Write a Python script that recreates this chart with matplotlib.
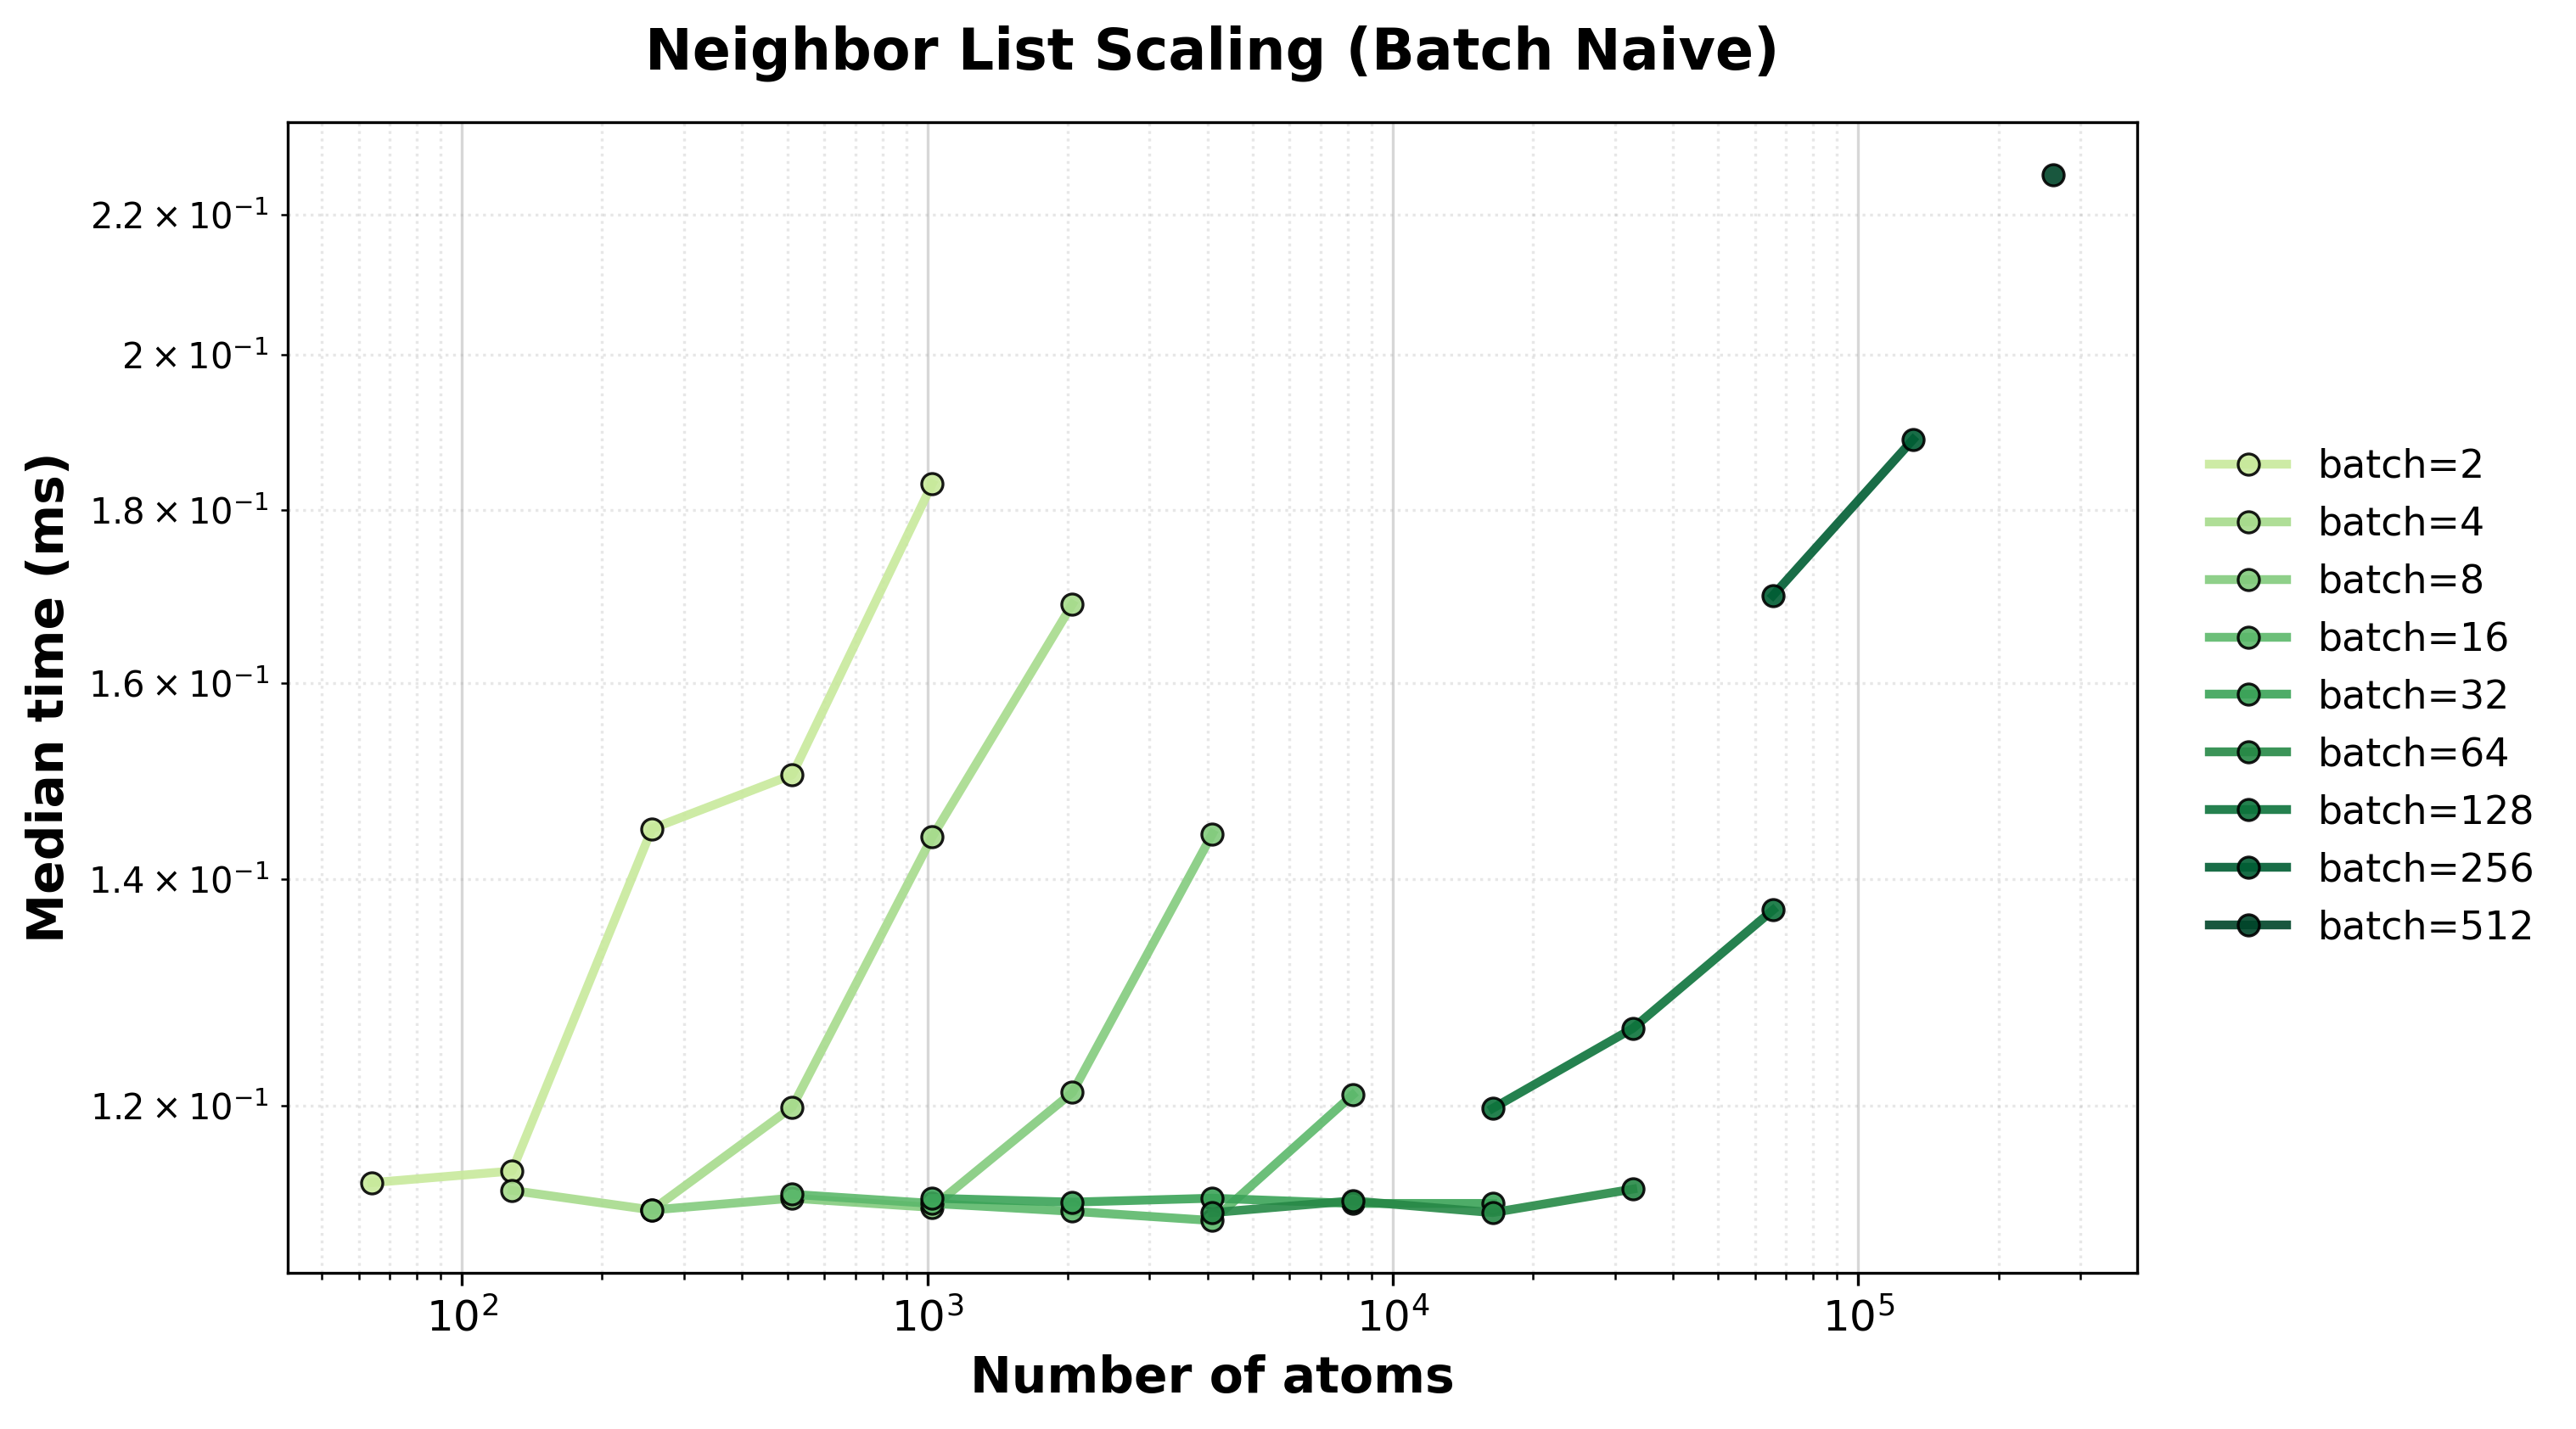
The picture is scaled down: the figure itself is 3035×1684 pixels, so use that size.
import numpy as np
import matplotlib
matplotlib.use("Agg")
import matplotlib.pyplot as plt

# batch sizes and measured median times (ms) per total atom count
batches = [2, 4, 8, 16, 32, 64, 128, 256, 512]

atoms_b2 = [64, 128, 256, 512, 1024]
time_b2 = [0.1139, 0.1148, 0.1449, 0.1503, 0.1832]

atoms_b4 = [128, 256, 512, 1024, 2048]
time_b4 = [0.1133, 0.1118, 0.1199, 0.1441, 0.1688]

atoms_b8 = [256, 512, 1024, 2048, 4096]
time_b8 = [0.1118, 0.1127, 0.1120, 0.1211, 0.1444]

atoms_b16 = [512, 1024, 2048, 4096, 8192]
time_b16 = [0.1130, 0.1123, 0.1117, 0.1110, 0.1209]

atoms_b32 = [1024, 2048, 4096, 8192, 16384]
time_b32 = [0.1127, 0.1124, 0.1127, 0.1123, 0.1123]

atoms_b64 = [4096, 8192, 16384, 32768]
time_b64 = [0.1116, 0.1125, 0.1116, 0.1134]

atoms_b128 = [16384, 32768, 65536]
time_b128 = [0.1198, 0.1265, 0.1371]

atoms_b256 = [65536, 131072]
time_b256 = [0.1698, 0.1888]

atoms_b512 = [262144]
time_b512 = [0.2261]

atoms = [atoms_b2, atoms_b4, atoms_b8, atoms_b16, atoms_b32,
         atoms_b64, atoms_b128, atoms_b256, atoms_b512]
times = [time_b2, time_b4, time_b8, time_b16, time_b32,
         time_b64, time_b128, time_b256, time_b512]

colors = plt.cm.YlGn(np.linspace(0.3, 1.0, len(batches)))

fig = plt.figure(figsize=(3035 / 300, 1684 / 300), dpi=300)
ax = fig.add_axes([339 / 3035, 1 - 1500 / 1684, (2518 - 339) / 3035, (1500 - 144) / 1684])

for b, x, y, c in zip(batches, atoms, times, colors):
    ax.plot(x, y, '-o', color=c, lw=2.5, ms=6, mec='black', mew=0.8,
            alpha=0.9, label=f'batch={b}')

ax.set_xscale('log')
ax.set_yscale('log')
ax.set_xlabel('Number of atoms', fontsize=14, fontweight='bold')
ax.set_ylabel('Median time (ms)', fontsize=14, fontweight='bold')
ax.set_title('Neighbor List Scaling (Batch Naive)', fontsize=16, fontweight='bold', pad=15)
ax.tick_params(axis='both', which='major', labelsize=12)
ax.grid(True, which='major', alpha=0.5)
ax.grid(True, which='minor', ls=':', alpha=0.3)
ax.legend(loc='center left', bbox_to_anchor=(1.02, 0.5), frameon=False, fontsize=11)

fig.savefig('out.png', dpi=300)
